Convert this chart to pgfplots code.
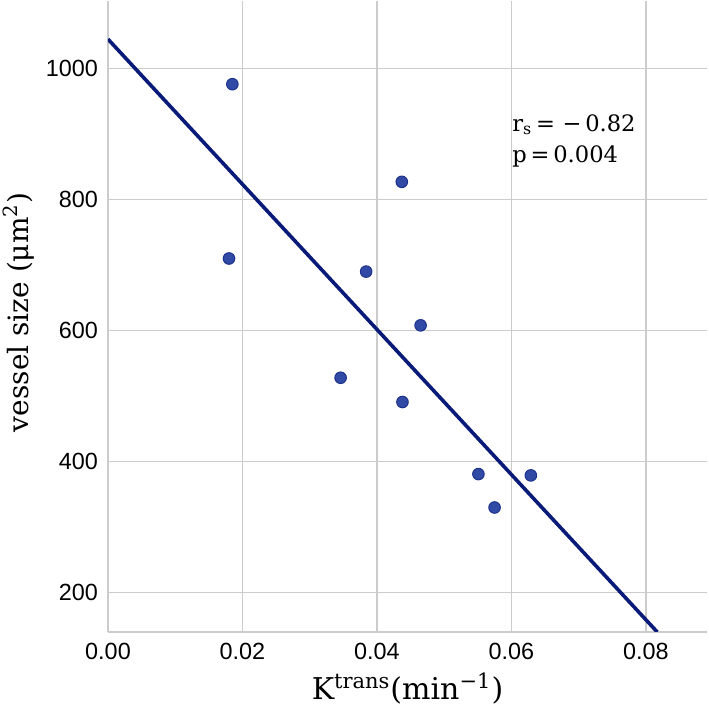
\documentclass[border=0pt]{standalone}
\usepackage{fontspec}
\setmainfont{DejaVu Serif}
\newfontfamily\ticksfont{Liberation Sans}
\usepackage{pgfplots}
\pgfplotsset{compat=1.18}
\definecolor{gridgray}{RGB}{204,204,204}
\definecolor{navyline}{RGB}{10,26,120}
\definecolor{dotfill}{RGB}{48,74,165}
\definecolor{dotedge}{RGB}{30,50,140}
\begin{document}
\begin{tikzpicture}
\begin{axis}[
  scale only axis, width=299.5pt, height=315.5pt,
  xmin=0, xmax=0.0891, ymin=140, ymax=1103,
  scaled x ticks=false, scaled y ticks=false,
  axis x line*=bottom, axis y line*=left,
  axis line style={gridgray, line width=0.9pt, -},
  grid=major, major grid style={gridgray, line width=0.8pt},
  major tick length=0pt,
  xtick={0,0.02,0.04,0.06,0.08},
  xticklabels={0.00,0.02,0.04,0.06,0.08},
  ytick={200,400,600,800,1000},
  yticklabels={200,400,600,800,1000},
  ticklabel style={font=\ticksfont\fontsize{11.7}{13}\selectfont},
  xticklabel style={yshift=-2pt},
  yticklabel style={xshift=-1.5pt},
  xlabel style={font=\fontsize{15}{17}\selectfont},
  ylabel style={font=\fontsize{14}{16}\selectfont, yshift=-1pt, xshift=2pt},
  xlabel={K\textsuperscript{trans}(min\textsuperscript{−1})},
  ylabel={vessel size (μm\textsuperscript{2})},
]
\addplot[only marks, mark=*, mark size=2.9pt,
  mark options={fill=dotfill, draw=dotedge, line width=0.5pt}] coordinates {
  (0.0185,976) (0.0180,710) (0.0437,827) (0.0384,690) (0.0465,608)
  (0.0346,528) (0.0438,491) (0.0551,381) (0.0629,379) (0.0575,330)
};
\addplot[navyline, line width=1.8pt] coordinates {(0,1044.8) (0.0817,140)};
\node[anchor=base west, inner sep=0pt, font=\fontsize{11.3}{13}\selectfont]
  at (axis cs:0.0601,904) {r\textsubscript{s}\,=\,\,−\,0.82};
\node[anchor=base west, inner sep=0pt, font=\fontsize{11.3}{13}\selectfont]
  at (axis cs:0.0601,857) {p\,=\,0.004};
\end{axis}
\pgfresetboundingbox
\path[use as bounding box] ([shift={(-54pt,-42pt)}]current axis.south west)
  rectangle ([shift={(1pt,0.5pt)}]current axis.north east);
\end{tikzpicture}
\end{document}
